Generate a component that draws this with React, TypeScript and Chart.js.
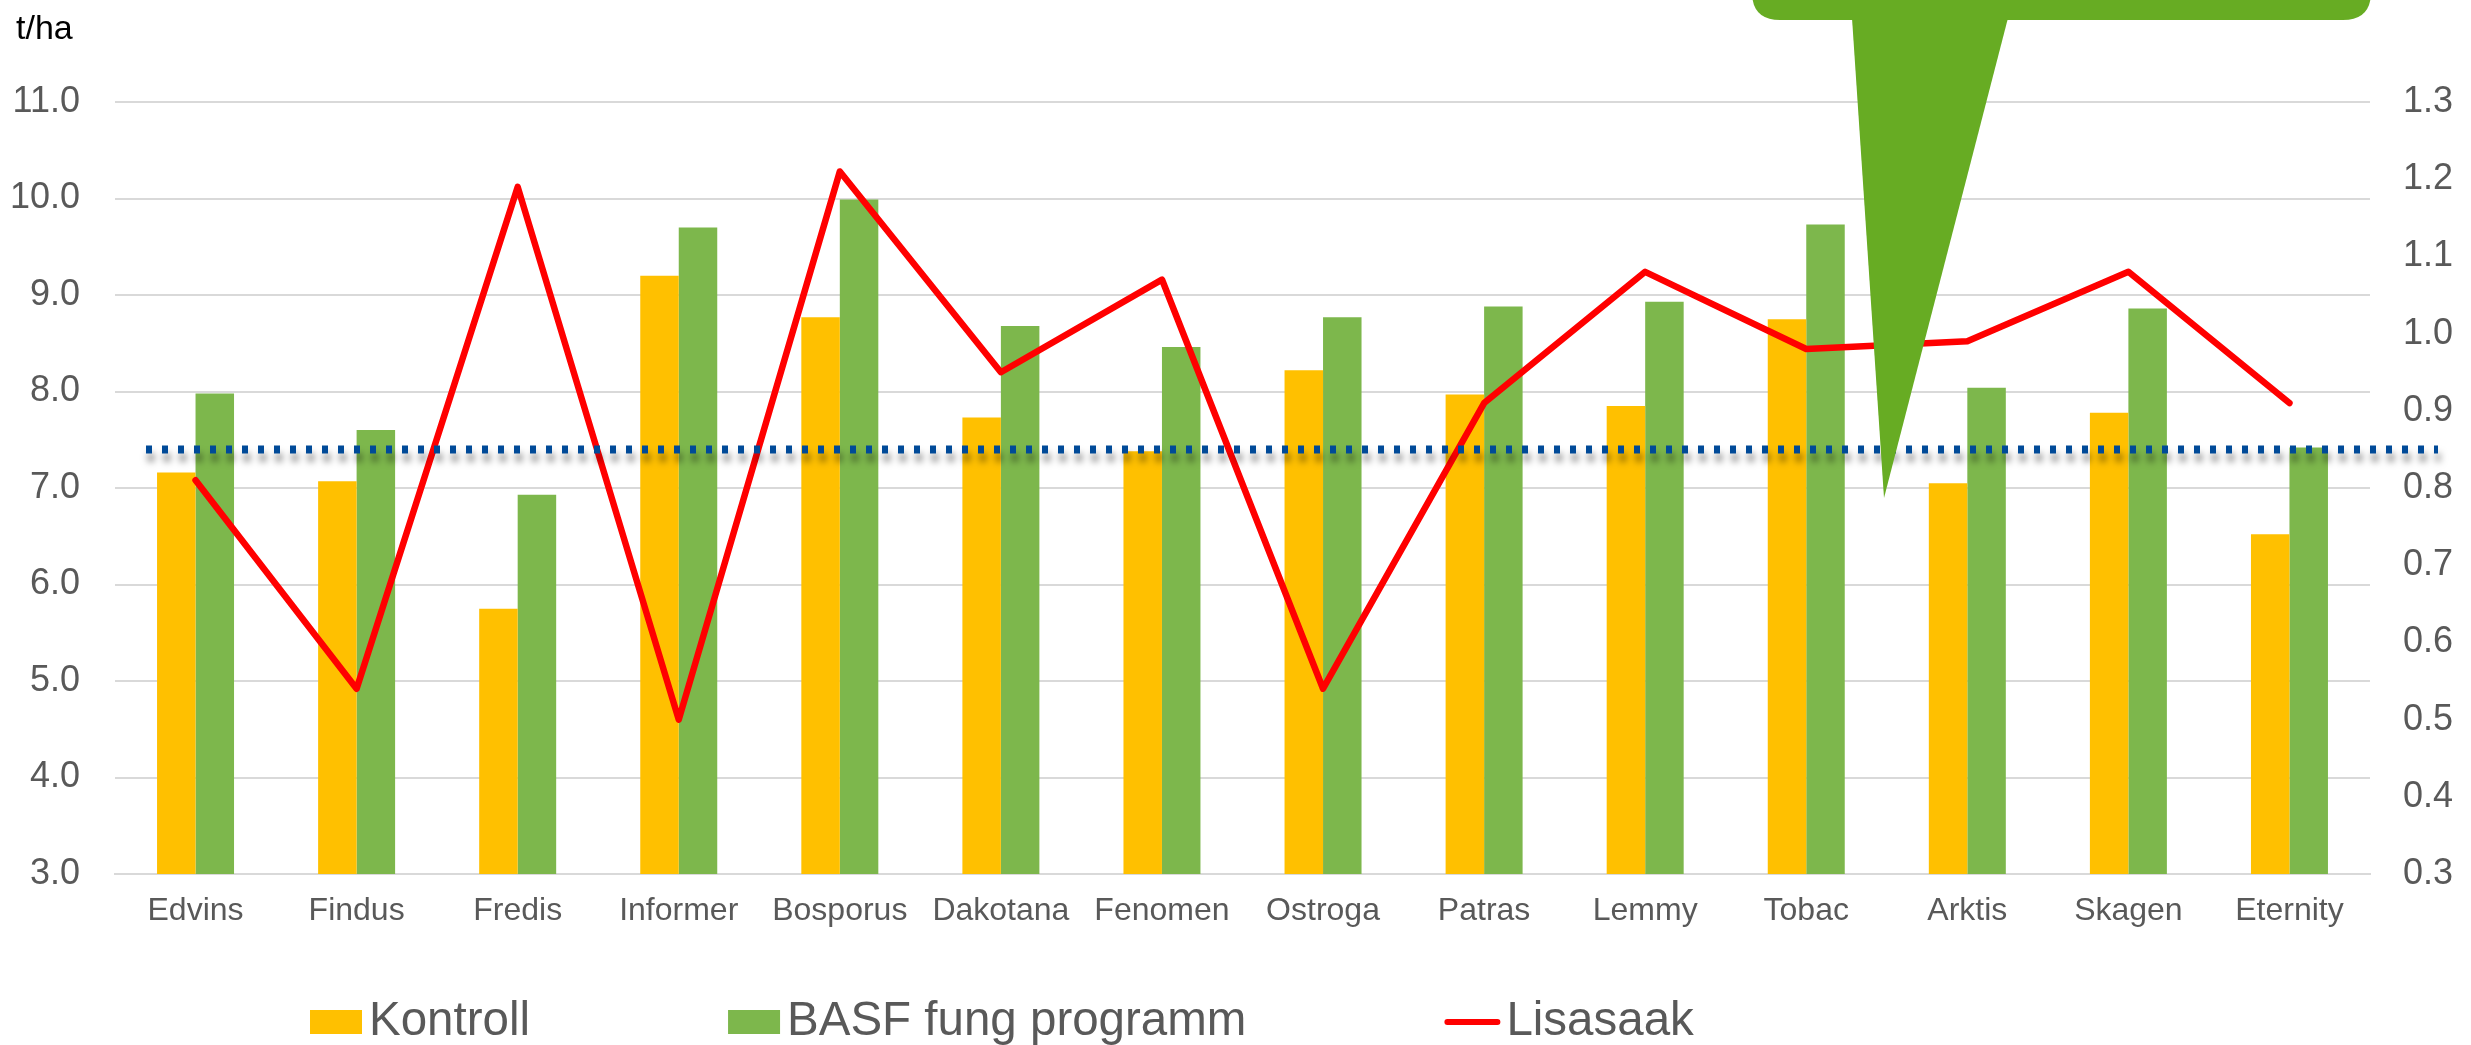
import { useEffect, useRef } from "react";
import { Chart, registerables } from "chart.js";

Chart.register(...registerables);

// ---- data ----
const categories = [
  "Edvins", "Findus", "Fredis", "Informer", "Bosporus", "Dakotana", "Fenomen",
  "Ostroga", "Patras", "Lemmy", "Tobac", "Arktis", "Skagen", "Eternity",
];
const kontroll = [7.16, 7.07, 5.75, 9.2, 8.77, 7.73, 7.38, 8.22, 7.97, 7.85, 8.75, 7.05, 7.78, 6.52];
const basf = [7.98, 7.6, 6.93, 9.7, 9.99, 8.68, 8.46, 8.77, 8.88, 8.93, 9.73, 8.04, 8.86, 7.42];
const lisasaak = [0.81, 0.54, 1.19, 0.5, 1.21, 0.95, 1.07, 0.54, 0.91, 1.08, 0.98, 0.99, 1.08, 0.91];
const seriesNames = ["Kontroll", "BASF fung programm", "Lisasaak"];
const leftAxis = { min: 3, max: 11, step: 1 };
const rightAxis = { min: 0.3, max: 1.3, step: 0.1 };
const unitLabel = "t/ha";
const averageLevel = 7.4;

const FONT = '"Liberation Sans", Arial, sans-serif';
const TICK_COLOR = "#595959";
const GRID_COLOR = "#D9D9D9";
const YELLOW = "#FFC000";
const GREEN = "#7DB74C";
const RED = "#FF0000";
const BLUE = "#004A98";
const CALLOUT = "#67AC23";

export default function App() {
  const ref = useRef<HTMLCanvasElement>(null);

  useEffect(() => {
    const canvas = ref.current;
    if (!canvas) return;

    const overlay = {
      id: "overlay",
      afterDatasetsDraw(chart: any) {
        const { ctx, chartArea, scales } = chart;
        // dotted average line with shadow
        const y = scales.y.getPixelForValue(averageLevel);
        ctx.save();
        ctx.strokeStyle = BLUE;
        ctx.lineWidth = 8;
        ctx.setLineDash([6, 10]);
        ctx.lineCap = "butt";
        ctx.shadowColor = "rgba(0,0,0,0.5)";
        ctx.shadowBlur = 7;
        ctx.shadowOffsetX = 2;
        ctx.shadowOffsetY = 8;
        ctx.beginPath();
        ctx.moveTo(chartArea.left + 31, y);
        ctx.lineTo(chartArea.right + 68, y);
        ctx.stroke();
        ctx.restore();

        // callout shape
        const rx = chartArea.right - 618;
        const rr = chartArea.right + 1;
        const rb = 20;
        const rad = 28;
        ctx.save();
        ctx.fillStyle = CALLOUT;
        ctx.beginPath();
        ctx.moveTo(rx, -60);
        ctx.lineTo(rr, -60);
        ctx.lineTo(rr, rb - rad);
        ctx.quadraticCurveTo(rr, rb, rr - rad, rb);
        ctx.lineTo(rx + rad, rb);
        ctx.quadraticCurveTo(rx, rb, rx, rb - rad);
        ctx.closePath();
        ctx.fill();
        ctx.beginPath();
        ctx.moveTo(rx + 100, rb - 2);
        ctx.lineTo(rx + 256, rb - 2);
        ctx.lineTo(rx + 132, 498);
        ctx.closePath();
        ctx.fill();
        ctx.restore();
      },
      afterDraw(chart: any) {
        const { ctx } = chart;
        ctx.save();
        // unit label
        ctx.fillStyle = "#000000";
        ctx.font = `34px ${FONT}`;
        ctx.textBaseline = "alphabetic";
        ctx.textAlign = "left";
        ctx.fillText(unitLabel, 16, 39);

        // legend
        ctx.font = `47.5px ${FONT}`;
        let x = 310;
        const midY = 1022;
        const baseY = 1035;
        chart.data.datasets.forEach((ds: any) => {
          let textX;
          if (ds.type === "line") {
            ctx.strokeStyle = ds.borderColor;
            ctx.lineWidth = 6;
            ctx.lineCap = "round";
            ctx.beginPath();
            ctx.moveTo(x + 3, midY);
            ctx.lineTo(x + 53, midY);
            ctx.stroke();
            textX = x + 62;
          } else {
            ctx.fillStyle = ds.backgroundColor;
            ctx.fillRect(x, midY - 12, 52, 24);
            textX = x + 59;
          }
          ctx.fillStyle = TICK_COLOR;
          ctx.fillText(ds.label, textX, baseY);
          x = textX + ctx.measureText(ds.label).width + 198;
        });
        ctx.restore();
      },
    };

    const chart = new Chart(canvas, {
      type: "bar",
      data: {
        labels: categories,
        datasets: [
          {
            type: "bar",
            label: seriesNames[0],
            data: kontroll,
            backgroundColor: YELLOW,
            borderWidth: 0,
            yAxisID: "y",
            order: 1,
            categoryPercentage: 0.478,
            barPercentage: 1,
          },
          {
            type: "bar",
            label: seriesNames[1],
            data: basf,
            backgroundColor: GREEN,
            borderWidth: 0,
            yAxisID: "y",
            order: 2,
            categoryPercentage: 0.478,
            barPercentage: 1,
          },
          {
            type: "line",
            label: seriesNames[2],
            data: lisasaak,
            borderColor: RED,
            backgroundColor: RED,
            borderWidth: 6.5,
            pointRadius: 0,
            tension: 0,
            borderJoinStyle: "round",
            borderCapStyle: "round",
            yAxisID: "y1",
            order: 0,
          },
        ] as any,
      },
      options: {
        responsive: false,
        animation: false,
        devicePixelRatio: 1,
        layout: { padding: { top: 102, left: 0, right: 0, bottom: 0 } },
        plugins: {
          legend: { display: false },
          tooltip: { enabled: false },
          title: { display: false },
        },
        scales: {
          x: {
            type: "category",
            offset: true,
            grid: { display: false, drawTicks: false },
            border: { display: true, color: GRID_COLOR, width: 2 },
            ticks: {
              color: TICK_COLOR,
              font: { family: FONT, size: 32 },
              padding: 18,
              maxRotation: 0,
              autoSkip: false,
            },
            afterFit: (s: any) => {
              s.height = 171;
            },
          },
          y: {
            type: "linear",
            position: "left",
            min: leftAxis.min,
            max: leftAxis.max,
            grid: { color: GRID_COLOR, lineWidth: 2, drawTicks: false },
            border: { display: false },
            ticks: {
              stepSize: leftAxis.step,
              color: TICK_COLOR,
              font: { family: FONT, size: 36 },
              padding: 35,
              callback: (v: any) => Number(v).toFixed(1),
            },
            afterFit: (s: any) => {
              s.width = 115;
            },
          },
          y1: {
            type: "linear",
            position: "right",
            min: rightAxis.min,
            max: rightAxis.max,
            grid: { drawOnChartArea: false, drawTicks: false },
            border: { display: false },
            ticks: {
              stepSize: rightAxis.step,
              color: TICK_COLOR,
              font: { family: FONT, size: 36 },
              padding: 33,
              callback: (v: any) => Number(v).toFixed(1),
            },
            afterFit: (s: any) => {
              s.width = 101;
            },
          },
        },
      } as any,
      plugins: [overlay],
    });

    return () => chart.destroy();
  }, []);

  return (
    <div
      style={{
        position: "fixed",
        left: 0,
        top: 0,
        width: 2471,
        height: 1045,
        background: "#ffffff",
        overflow: "hidden",
      }}
    >
      <canvas ref={ref} width={2471} height={1045} style={{ width: 2471, height: 1045, display: "block" }} />
    </div>
  );
}
